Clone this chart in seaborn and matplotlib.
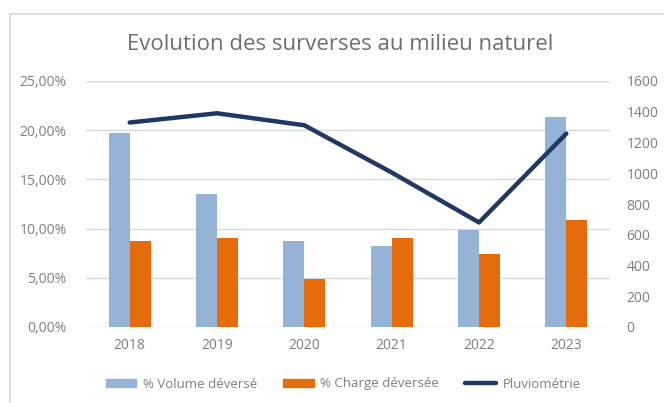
import numpy as np
import pandas as pd
import matplotlib
matplotlib.use("Agg")
import matplotlib.pyplot as plt
from matplotlib.patches import Patch, Rectangle
from matplotlib.lines import Line2D
from matplotlib.ticker import FuncFormatter
import seaborn as sns

years = ["2018", "2019", "2020", "2021", "2022", "2023"]
volume = [19.7, 13.5, 8.75, 8.25, 9.85, 21.3]
charge = [8.75, 9.0, 4.9, 9.0, 7.45, 10.9]
pluvio = [1330, 1390, 1312, 1005, 680, 1258]

series_names = ["% Volume déversé", "% Charge déversée"]
colors = ["#95b3d7", "#e46c0a"]
line_color = "#1f3864"
text_color = "#7f7f7f"
grid_color = "#d9d9d9"

df = pd.DataFrame({
    "year": years * 2,
    "value": volume + charge,
    "serie": [series_names[0]] * 6 + [series_names[1]] * 6,
})
df_line = pd.DataFrame({"x": np.arange(len(years)), "pluvio": pluvio})

sns.set_theme(style="white")
plt.rcParams['font.family'] = ['Open Sans', 'DejaVu Sans']

fig = plt.figure(figsize=(6.64, 4.03), dpi=100)
ax = fig.add_axes([86/664, 1 - 327/403, (610 - 86)/664, (327 - 81)/403])

sns.barplot(data=df, x="year", y="value", hue="serie", palette=colors,
            width=0.48, ax=ax, legend=False, saturation=1, edgecolor="none")
ax.set_ylim(0, 25)
ax.set_yticks(np.arange(0, 26, 5))
ax.yaxis.set_major_formatter(FuncFormatter(lambda v, p: f"{v:.2f}%".replace(".", ",")))
ax.set_xlim(-0.5, 5.5)
ax.grid(axis="y", color=grid_color, linewidth=1)
ax.set_axisbelow(True)
for s in ax.spines.values():
    s.set_visible(False)
ax.set_xlabel("")
ax.set_ylabel("")
ax.tick_params(axis="both", colors=text_color, labelsize=10, length=0)
ax.tick_params(axis="y", pad=14)
ax.tick_params(axis="x", pad=8)

ax2 = ax.twinx()
sns.lineplot(data=df_line, x="x", y="pluvio", ax=ax2, color=line_color,
             linewidth=3.2, solid_capstyle="round")
ax2.set_ylim(0, 1600)
ax2.set_yticks(np.arange(0, 1601, 200))
ax2.set_xlim(-0.5, 5.5)
for s in ax2.spines.values():
    s.set_visible(False)
ax2.set_ylabel("")
ax2.set_xlabel("")
ax2.grid(False)
ax2.tick_params(axis="y", colors=text_color, labelsize=10, length=0, pad=12)

fig.text(340/664, 1 - 45/403, "Evolution des surverses au milieu naturel",
         ha="center", va="center", fontsize=16, color="#6f6f6f")

handles = [Patch(color=colors[0]), Patch(color=colors[1]),
           Line2D([0], [0], color=line_color, linewidth=3.2, solid_capstyle="round")]
fig.legend(handles, series_names + ["Pluviométrie"], loc="center",
           bbox_to_anchor=(343/664, 1 - 384/403), ncol=3, frameon=False,
           fontsize=9.5, labelcolor=text_color, handlelength=2.3, handleheight=0.5,
           handletextpad=0.5, columnspacing=2.0)

fig.patches.append(Rectangle((10/664, -0.1), 1.2, 1 - 14/403 + 0.1,
                             transform=fig.transFigure, fill=False,
                             edgecolor="#d9d9d9", linewidth=1.2))

fig.savefig("out.png", dpi=100)
